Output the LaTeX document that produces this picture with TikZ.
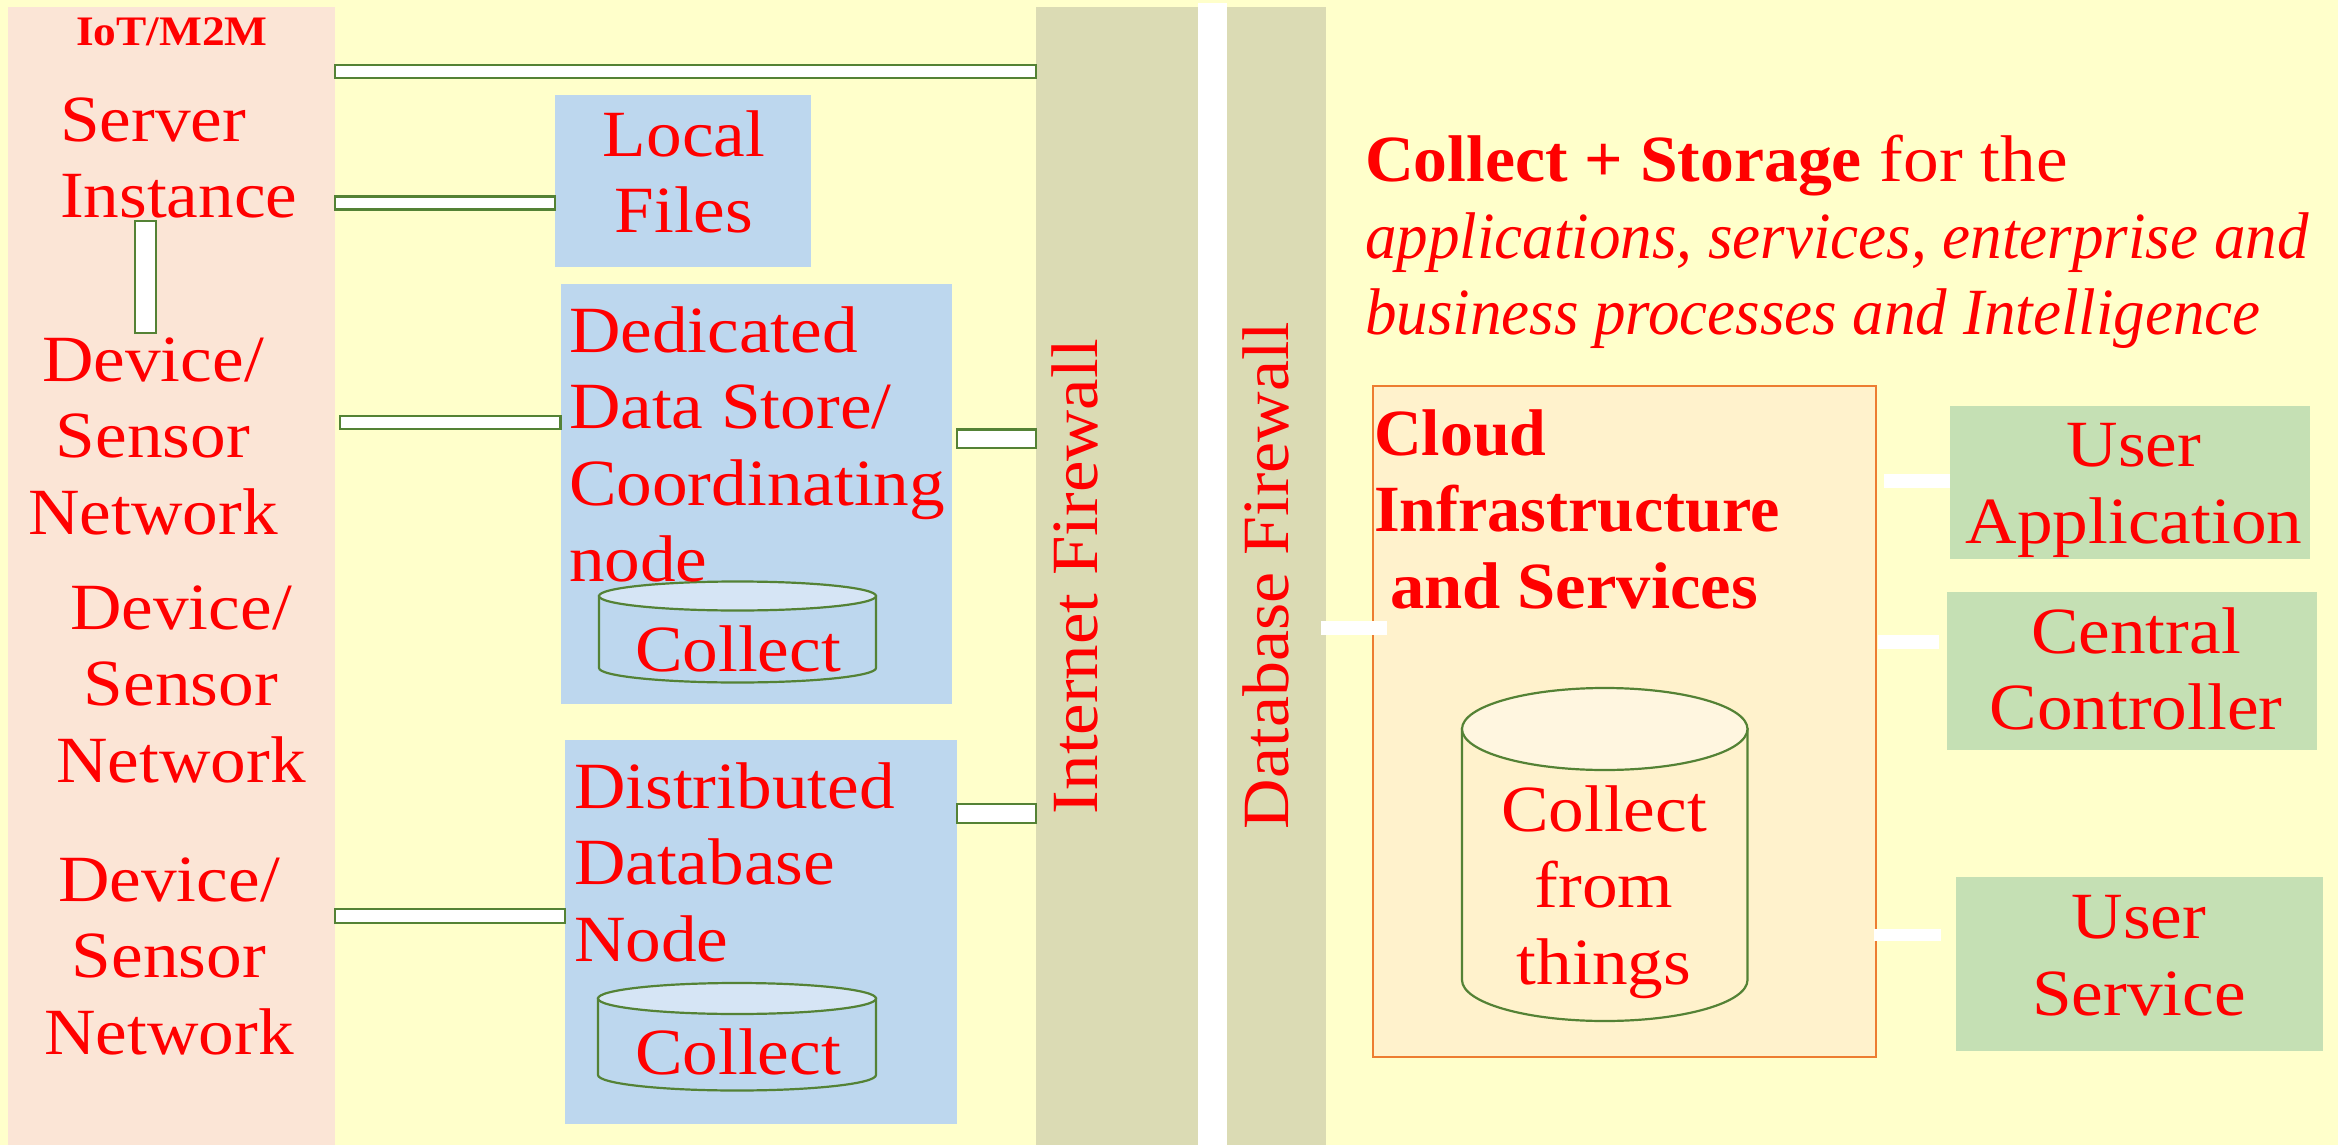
\documentclass[tikz,border=0pt]{standalone}
\usepackage{fontspec}
\setmainfont[FakeStretch=1.08]{Liberation Serif}
\newfontfamily\rotfontA[FakeStretch=1.075]{Liberation Serif}
\newfontfamily\rotfontB[FakeStretch=1.06]{Liberation Serif}
\newfontfamily\headbold[FakeStretch=1.025]{Liberation Serif}
\newfontfamily\cloudbold[FakeStretch=1.0]{Liberation Serif}
\newfontfamily\servicebold[FakeStretch=1.04]{Liberation Serif}
\newfontfamily\headital[FakeStretch=0.955]{Liberation Serif}
\definecolor{bgyellow}{HTML}{FFFFCB}
\definecolor{iotpink}{HTML}{FBE5D6}
\definecolor{paleblue}{HTML}{BDD7EE}
\definecolor{topblue}{HTML}{D6E5F5}
\definecolor{firewall}{HTML}{DBDBB4}
\definecolor{cloudfill}{HTML}{FFF2CC}
\definecolor{cloudtop}{HTML}{FFF6E0}
\definecolor{cloudedge}{HTML}{ED7D31}
\definecolor{palegreen}{HTML}{C5E0B4}
\definecolor{linkgreen}{HTML}{548235}
\tikzset{
  x=1pt,y=-1pt,
  panel/.style={anchor=north west,inner sep=0pt,outer sep=0pt,draw=none},
  lbl/.style={text=red,inner sep=0pt,outer sep=0pt,font=\fontsize{66pt}{76.5pt}\selectfont},
  lblL/.style={lbl,align=left,anchor=base west},
  lblC/.style={lbl,align=center,anchor=base},
  rot/.style={text=red,inner sep=0pt,outer sep=0pt,rotate=90,anchor=base west},
  link/.style={draw=linkgreen,line width=2.2pt,fill=white},
  gap/.style={fill=white,draw=none},
  cyl/.style={draw=linkgreen,line width=2.2pt},
}
\newcommand{\cylinderpath}[7]{% x1 x2 ytop ybot ry bodyfill topfill
  \path[cyl,fill=#6] (#1,#3) -- (#1,#4)
     arc[start angle=180,end angle=0,x radius={(#2-#1)/2},y radius=#5] -- (#2,#3) -- cycle;
  \path[cyl,fill=#7] ({(#1+#2)/2},#3) ellipse[x radius={(#2-#1)/2},y radius=#5];
}
\begin{document}
\begin{tikzpicture}
\useasboundingbox (0,0) rectangle (2338,1145);
\fill[bgyellow] (0,0) rectangle (2338,1145);
% panels
\node[panel,fill=iotpink,minimum width=327pt,minimum height=1138pt] (iot) at (8,7) {};
\node[panel,fill=paleblue,minimum width=256pt,minimum height=172pt] (local) at (555,95) {};
\node[panel,fill=paleblue,minimum width=391.5pt,minimum height=420.5pt] (dds) at (560.5,283.5) {};
\node[panel,fill=paleblue,minimum width=392pt,minimum height=384pt] (ddn) at (565,740) {};
\node[panel,fill=firewall,minimum width=162pt,minimum height=1138pt] (fwi) at (1036,7) {};
\node[panel,fill=white,minimum width=29pt,minimum height=1142pt] (stripe) at (1198,3) {};
\node[panel,fill=firewall,minimum width=99pt,minimum height=1138pt] (fwd) at (1227,7) {};
\node[panel,fill=cloudfill,draw=cloudedge,line width=2pt,minimum width=503pt,minimum height=671pt] (cloud) at (1373,386) {};
\node[panel,fill=palegreen,minimum width=360pt,minimum height=153pt] (ua) at (1950,406) {};
\node[panel,fill=palegreen,minimum width=370pt,minimum height=158pt] (cc) at (1947,592) {};
\node[panel,fill=palegreen,minimum width=367pt,minimum height=174pt] (us) at (1956,877) {};
% links
\draw[link] (iot.east |- 0,65) rectangle (fwi.west |- 0,78);
\draw[link] (iot.east |- 0,196.5) rectangle (local.west |- 0,209.5);
\draw[link] (135,221) rectangle (156,333);
\draw[link] ([xshift=5pt]iot.east |- 0,416) rectangle (dds.west |- 0,429);
\draw[link] ([xshift=5pt]dds.east |- 0,429.5) rectangle (fwi.west |- 0,448);
\draw[link] (iot.east |- 0,909) rectangle (ddn.west |- 0,923);
\draw[link] (ddn.east |- 0,804) rectangle (fwi.west |- 0,823);
% white links
\fill[gap] ([xshift=-5pt]fwd.east |- 0,621) rectangle ([xshift=14pt]cloud.west |- 0,635);
\fill[gap] ([xshift=8pt]cloud.east |- 0,474) rectangle (ua.west |- 0,488);
\fill[gap] ([xshift=2pt]cloud.east |- 0,635) rectangle ([xshift=-8pt]cc.west |- 0,649);
\fill[gap] ([xshift=-2pt]cloud.east |- 0,929) rectangle ([xshift=-15pt]us.west |- 0,941);
% cylinders
\cylinderpath{599}{876}{596}{668}{14.5}{paleblue}{topblue}
\cylinderpath{598}{876}{998.5}{1075}{15.5}{paleblue}{topblue}
\cylinderpath{1462}{1747.5}{729}{980}{41}{cloudfill}{cloudtop}
% texts
\node[text=red,inner sep=0pt,anchor=base,font=\bfseries\fontsize{42pt}{48pt}\selectfont] (t0) at (172,46) {IoT/M2M};
\node[lblL] (t1) at (60,217.5) {Server\\Instance};
\node[lblC] (t2) at (153,534) {Device/\\Sensor\\Network};
\node[lblC] (t3) at (181,782) {Device/\\Sensor\\Network};
\node[lblC] (t4) at (169,1054) {Device/\\Sensor\\Network};
\node[lblC] (t5) at (684,232.5) {Local\\Files};
\node[lblL] (t6) at (569,581.5) {Dedicated\\Data Store/\\Coordinating\\node};
\node[lblL] (t7) at (574,961) {Distributed\\Database\\Node};
\node[lblC] (t8) at (738,671) {Collect};
\node[lblC] (t9) at (738,1074) {Collect};
\node[rot,font=\rotfontA\fontsize{66pt}{76pt}\selectfont] (t10) at (1097,814) {Internet Firewall};
\node[rot,font=\rotfontB\fontsize{66pt}{76pt}\selectfont] (t11) at (1288,829) {Database Firewall};
\node[lblL] (t12) at (1365,334.5) {{\headbold\bfseries Collect + Storage} for the\\{\headital\itshape applications, services, enterprise and}\\{\headital\itshape business processes and Intelligence}};
\node[lblL,font=\cloudbold\bfseries\fontsize{66pt}{76.5pt}\selectfont] (t13) at (1374,608) {Cloud\\Infrastructure\\\hspace*{16pt}{\servicebold\bfseries and Services}};
\node[lblC] (t14) at (1604,984) {Collect\\from\\things};
\node[lblC] (t15) at (2134,543) {User\\Application};
\node[lblC] (t16) at (2136,729.5) {Central\\Controller};
\node[lblC] (t17) at (2139,1015) {User\\Service};
\end{tikzpicture}
\end{document}
